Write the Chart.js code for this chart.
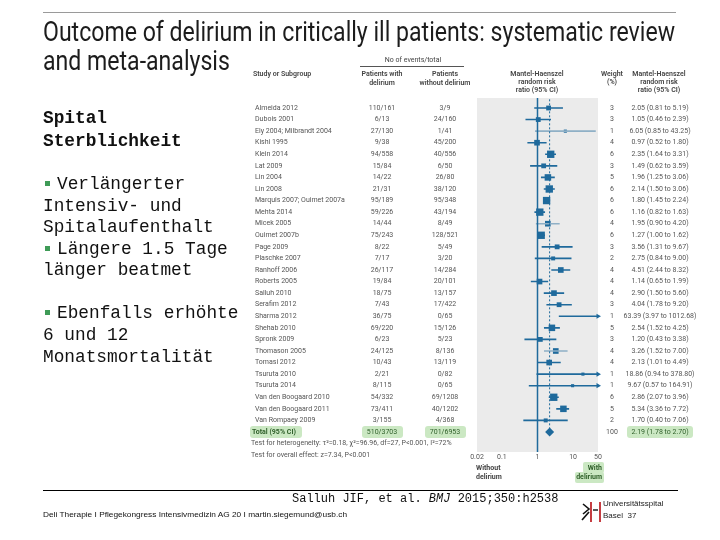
<!DOCTYPE html>
<html>
<head>
<meta charset="utf-8">
<script src="https://cdn.jsdelivr.net/npm/chart.js@4"></script>
<style>
  html, body { margin: 0; padding: 0; background: #fff; }
  .slide { position: relative; width: 720px; height: 540px; overflow: hidden; }
  .slide canvas { position: absolute; left: 0; top: 0; }
  .abs { position: absolute; white-space: nowrap; }
  .title { font-family: Roboto, sans-serif; font-size: 27px; line-height: 28px; color: #1c1c1c; transform-origin: 0 0; }
  .mono { font-family: 'Liberation Mono', 'DejaVu Sans Mono', monospace; font-size: 17.8px; line-height: 20px; color: #111; }
  .bullet { position: absolute; width: 5px; height: 5px; background: #3f9b57; }
  .rule { position: absolute; height: 1px; }
</style>
</head>
<body>
<div class="slide" id="slide">
  <canvas id="forest"></canvas>

  <div class="rule" style="left:43px; top:12px; width:633px; background:#9a9a9a;"></div>
  <div class="abs title fit" data-w="632" style="left:43px; top:18px;">Outcome of delirium in critically ill patients: systematic review</div>
  <div class="abs title fit-same" style="left:43px; top:47px;">and meta-analysis</div>

  <div class="abs mono" style="left:43px; top:108px; font-weight:bold;">Spital</div>
  <div class="abs mono" style="left:43px; top:131px; font-weight:bold;">Sterblichkeit</div>
  <div class="bullet" style="left:45px; top:181px;"></div>
  <div class="abs mono" style="left:57px; top:174px;">Verlängerter</div>
  <div class="abs mono" style="left:43px; top:196px;">Intensiv- und</div>
  <div class="abs mono" style="left:43px; top:217px;">Spitalaufenthalt</div>
  <div class="bullet" style="left:45px; top:246px;"></div>
  <div class="abs mono" style="left:57px; top:239px;">Längere 1.5 Tage</div>
  <div class="abs mono" style="left:43px; top:260px;">länger beatmet</div>
  <div class="bullet" style="left:45px; top:310px;"></div>
  <div class="abs mono" style="left:57px; top:303px;">Ebenfalls erhöhte</div>
  <div class="abs mono" style="left:43px; top:325px;">6 und 12</div>
  <div class="abs mono" style="left:43px; top:347px;">Monatsmortalität</div>

  <div class="rule" style="left:43px; top:490px; width:635px; background:#000;"></div>
  <div class="abs mono" style="left:292px; top:491px; font-size:12px; line-height:16px;">Salluh JIF, et al. <i>BMJ</i> 2015;350:h2538</div>
  <div class="abs fit" data-w="304" style="left:43px; top:510px; font-family:'Liberation Sans', Arial, sans-serif; font-size:7.5px; line-height:10px; color:#111; transform-origin:0 0;">Deli Therapie I Pflegekongress Intensivmedizin AG 20 I martin.siegemund@usb.ch</div>

  <svg class="abs" style="left:580px; top:498px;" width="22" height="26">
    <path d="M3 6 L9 11 L3 16" stroke="#111" stroke-width="1.6" fill="none"/>
    <path d="M2 22 L9 14" stroke="#111" stroke-width="1.6"/>
    <line x1="11" y1="4" x2="11" y2="24" stroke="#c0282d" stroke-width="1.8"/>
    <line x1="13" y1="12" x2="18" y2="12" stroke="#111" stroke-width="1.4"/>
    <line x1="20" y1="4" x2="20" y2="24" stroke="#c0282d" stroke-width="1.8"/>
  </svg>
  <div class="abs" style="left:603px; top:499px; font-family:'Liberation Sans', Arial, sans-serif; font-size:8px; line-height:10px; color:#222;">Universitätsspital</div>
  <div class="abs" style="left:603px; top:511px; font-family:'Liberation Sans', Arial, sans-serif; font-size:8px; line-height:10px; color:#222;">Basel&nbsp; 37</div>
</div>

<script>
const studies = [
  'Almeida 2012', 'Dubois 2001', 'Ely 2004; Milbrandt 2004', 'Kishi 1995', 'Klein 2014',
  'Lat 2009', 'Lin 2004', 'Lin 2008', 'Marquis 2007; Ouimet 2007a', 'Mehta 2014',
  'Micek 2005', 'Ouimet 2007b', 'Page 2009', 'Plaschke 2007', 'Ranhoff 2006',
  'Roberts 2005', 'Salluh 2010', 'Serafim 2012', 'Sharma 2012', 'Shehab 2010',
  'Spronk 2009', 'Thomason 2005', 'Tomasi 2012', 'Tsuruta 2010', 'Tsuruta 2014',
  'Van den Boogaard 2010', 'Van den Boogaard 2011', 'Van Rompaey 2009'
]
const eventsWithDelirium = [
  '110/161', '6/13', '27/130', '9/38', '94/558', '15/84', '14/22', '21/31', '95/189', '59/226',
  '14/44', '75/243', '8/22', '7/17', '26/117', '19/84', '18/75', '7/43', '36/75', '69/220',
  '6/23', '24/125', '10/43', '2/21', '8/115', '54/332', '73/411', '3/155'
]
const eventsWithoutDelirium = [
  '3/9', '24/160', '1/41', '45/200', '40/556', '6/50', '26/80', '38/120', '95/348', '43/194',
  '8/49', '128/521', '5/49', '3/20', '14/284', '20/101', '13/157', '17/422', '0/65', '15/126',
  '5/23', '8/136', '13/119', '0/82', '0/65', '69/1208', '40/1202', '4/368'
]
const weights = [3, 3, 1, 4, 6, 3, 5, 6, 6, 6, 4, 6, 3, 2, 4, 4, 4, 3, 1, 5, 3, 4, 4, 1, 1, 6, 5, 2]
const riskRatio = [2.05, 1.05, 6.05, 0.97, 2.35, 1.49, 1.96, 2.14, 1.80, 1.16, 1.95, 1.27, 3.56, 2.75,
  4.51, 1.14, 2.90, 4.04, 63.39, 2.54, 1.20, 3.26, 2.13, 18.86, 9.67, 2.86, 5.34, 1.70]
const ciLower = [0.81, 0.46, 0.85, 0.52, 1.64, 0.62, 1.25, 1.50, 1.45, 0.82, 0.90, 1.00, 1.31, 0.84,
  2.44, 0.65, 1.50, 1.78, 3.97, 1.52, 0.43, 1.52, 1.01, 0.94, 0.57, 2.07, 3.36, 0.40]
const ciUpper = [5.19, 2.39, 43.25, 1.80, 3.31, 3.59, 3.06, 3.06, 2.24, 1.63, 4.20, 1.62, 9.67, 9.00,
  8.32, 1.99, 5.60, 9.20, 1012.68, 4.25, 3.38, 7.00, 4.49, 378.80, 164.91, 3.96, 7.72, 7.06]
const lighterStudies = ['Ely 2004; Milbrandt 2004', 'Micek 2005', 'Thomason 2005']

const totalWith = '510/3703'
const totalWithout = '701/6953'
const totalWeight = 100
const totalRatio = 2.19
const totalLower = 1.78
const totalUpper = 2.70
const heterogeneityText = 'Test for heterogeneity: τ²=0.18, χ²=96.96, df=27, P<0.001, I²=72%'
const overallText = 'Test for overall effect: z=7.34, P<0.001'

const xTicks = [0.02, 0.1, 1, 10, 50]
const xTickLabels = ['0.02', '0.1', '1', '10', '50']

const BLUE = '#1f6a9c'
const LIGHT = '#8fb0c6'
const GREEN_BG = '#cbe8c3'
const TEXT = '#555'
const FONT = 'Roboto, "Open Sans", sans-serif'

const xMin = xTicks[0]
const xMax = xTicks[xTicks.length - 1]
const totalRow = studies.length
const yMin = -0.864
const yMax = 29.73

function ciSegments(filter) {
  const pts = []
  studies.forEach((name, i) => {
    if (!filter(name)) return
    pts.push({ x: ciLower[i], y: i }, { x: ciUpper[i], y: i }, { x: null, y: null })
  })
  return pts
}

function fmt(v) {
  return v.toFixed(2)
}

function roundRect(ctx, x, y, w, h, r) {
  ctx.beginPath()
  ctx.roundRect(x, y, w, h, r)
  ctx.fill()
}

const backgroundPlugin = {
  id: 'plotBackground',
  beforeDatasetsDraw(chart) {
    const { ctx, chartArea } = chart
    ctx.save()
    ctx.fillStyle = '#ebebeb'
    ctx.fillRect(chartArea.left, chartArea.top, chartArea.right - chartArea.left, chartArea.bottom - chartArea.top)
    ctx.restore()
  },
}

const tablePlugin = {
  id: 'forestTable',
  afterDraw(chart) {
    const { ctx } = chart
    const xs = chart.scales.x
    const ys = chart.scales.y
    ctx.save()
    ctx.textBaseline = 'middle'

    // column headers
    ctx.fillStyle = '#444'
    ctx.font = '7px ' + FONT
    ctx.textAlign = 'center'
    ctx.fillText('No of events/total', 413, 60)
    ctx.strokeStyle = '#555'
    ctx.lineWidth = 1
    ctx.beginPath()
    ctx.moveTo(360, 66.5)
    ctx.lineTo(464, 66.5)
    ctx.stroke()

    ctx.font = '600 7px ' + FONT
    ctx.textAlign = 'left'
    ctx.fillText('Study or Subgroup', 253, 74)
    ctx.textAlign = 'center'
    ctx.fillText('Patients with', 382, 74)
    ctx.fillText('delirium', 382, 83)
    ctx.fillText('Patients', 445, 74)
    ctx.fillText('without delirium', 445, 83)
    ctx.fillText('Mantel-Haenszel', 537, 74)
    ctx.fillText('random risk', 537, 82)
    ctx.fillText('ratio (95% CI)', 537, 90)
    ctx.fillText('Weight', 612, 74)
    ctx.fillText('(%)', 612, 82)
    ctx.fillText('Mantel-Haenszel', 659, 74)
    ctx.fillText('random risk', 659, 82)
    ctx.fillText('ratio (95% CI)', 659, 90)

    // study rows
    ctx.font = '7px ' + FONT
    ctx.fillStyle = TEXT
    studies.forEach((name, i) => {
      const y = ys.getPixelForValue(i)
      ctx.textAlign = 'left'
      ctx.fillText(name, 255, y)
      ctx.textAlign = 'center'
      ctx.fillText(eventsWithDelirium[i], 382, y)
      ctx.fillText(eventsWithoutDelirium[i], 445, y)
      ctx.fillText(String(weights[i]), 612, y)
      ctx.fillText(`${fmt(riskRatio[i])} (${fmt(ciLower[i])} to ${fmt(ciUpper[i])})`, 660, y)
    })

    // total row
    const ty = ys.getPixelForValue(totalRow)
    const rrTotal = `${fmt(totalRatio)} (${fmt(totalLower)} to ${fmt(totalUpper)})`
    ctx.fillStyle = GREEN_BG
    roundRect(ctx, 250, ty - 6, 52, 12, 3)
    roundRect(ctx, 362, ty - 6, 41, 12, 3)
    roundRect(ctx, 425, ty - 6, 41, 12, 3)
    roundRect(ctx, 627, ty - 6, 66, 12, 3)
    ctx.fillStyle = '#2f5f2a'
    ctx.font = 'bold 7px ' + FONT
    ctx.textAlign = 'left'
    ctx.fillText('Total (95% CI)', 252, ty)
    ctx.font = '7px ' + FONT
    ctx.textAlign = 'center'
    ctx.fillText(totalWith, 382, ty)
    ctx.fillText(totalWithout, 445, ty)
    ctx.fillText(rrTotal, 660, ty)
    ctx.fillStyle = TEXT
    ctx.fillText(String(totalWeight), 612, ty)

    ctx.textAlign = 'left'
    ctx.fillText(heterogeneityText, 251, ys.getPixelForValue(totalRow + 1))
    ctx.fillText(overallText, 251, ys.getPixelForValue(totalRow + 2))

    // x axis tick labels
    ctx.textAlign = 'center'
    xTicks.forEach((v, i) => {
      ctx.fillText(xTickLabels[i], xs.getPixelForValue(v), 457)
    })

    // direction labels
    ctx.font = 'bold 7px ' + FONT
    ctx.fillStyle = '#444'
    ctx.textAlign = 'left'
    ctx.fillText('Without', 476, 468)
    ctx.fillText('delirium', 476, 477)
    ctx.fillStyle = GREEN_BG
    roundRect(ctx, 583, 462, 21, 11, 2)
    roundRect(ctx, 575, 472, 29, 11, 2)
    ctx.fillStyle = '#2f5f2a'
    ctx.textAlign = 'right'
    ctx.fillText('With', 602, 468)
    ctx.fillText('delirium', 602, 477)

    ctx.restore()
  },
}

function fitText() {
  let scale = 1
  document.querySelectorAll('.fit').forEach((el) => {
    const target = Number(el.dataset.w)
    const s = target / el.getBoundingClientRect().width
    el.style.transform = `scaleX(${s})`
    if (el.classList.contains('title')) scale = s
  })
  document.querySelectorAll('.fit-same').forEach((el) => {
    el.style.transform = `scaleX(${scale})`
  })
}

function renderForest() {
  const canvas = document.getElementById('forest')
  canvas.width = 720
  canvas.height = 540
  const ctx = canvas.getContext('2d')

  const arrows = []
  studies.forEach((name, i) => {
    if (ciUpper[i] > xMax) arrows.push({ x: xMax, y: i })
  })

  new Chart(ctx, {
    type: 'scatter',
    data: {
      datasets: [
        {
          data: [{ x: 1, y: yMin }, { x: 1, y: yMax }],
          showLine: true,
          borderColor: BLUE,
          borderWidth: 1.5,
          pointRadius: 0,
        },
        {
          data: [{ x: totalRatio, y: -0.75 }, { x: totalRatio, y: totalRow }],
          showLine: true,
          borderColor: BLUE,
          borderWidth: 1,
          borderDash: [2, 2],
          pointRadius: 0,
        },
        {
          data: ciSegments((n) => !lighterStudies.includes(n)),
          showLine: true,
          spanGaps: false,
          borderColor: BLUE,
          borderWidth: 1.6,
          pointRadius: 0,
        },
        {
          data: ciSegments((n) => lighterStudies.includes(n)),
          showLine: true,
          spanGaps: false,
          borderColor: LIGHT,
          borderWidth: 1.6,
          pointRadius: 0,
        },
        {
          data: studies.map((name, i) => ({ x: riskRatio[i], y: i })),
          pointStyle: 'rect',
          pointRadius: weights.map((w) => 1.6 + w * 0.6),
          backgroundColor: BLUE,
          borderWidth: 0,
        },
        {
          data: arrows,
          pointStyle: 'triangle',
          rotation: 90,
          pointRadius: 3,
          backgroundColor: BLUE,
          borderWidth: 0,
          clip: false,
        },
        {
          data: [{ x: totalRatio, y: totalRow }],
          pointStyle: 'rectRot',
          pointRadius: 4.5,
          backgroundColor: BLUE,
          borderWidth: 0,
        },
      ],
    },
    options: {
      responsive: false,
      animation: false,
      events: [],
      layout: {
        padding: { left: 477, right: 122, top: 98, bottom: 88 },
      },
      scales: {
        x: { type: 'logarithmic', min: xMin, max: xMax, display: false },
        y: { type: 'linear', min: yMin, max: yMax, reverse: true, display: false },
      },
      plugins: {
        legend: { display: false },
        tooltip: { enabled: false },
      },
    },
    plugins: [backgroundPlugin, tablePlugin],
  })
}

document.fonts.ready.then(() => {
  fitText()
  renderForest()
})
</script>
</body>
</html>
